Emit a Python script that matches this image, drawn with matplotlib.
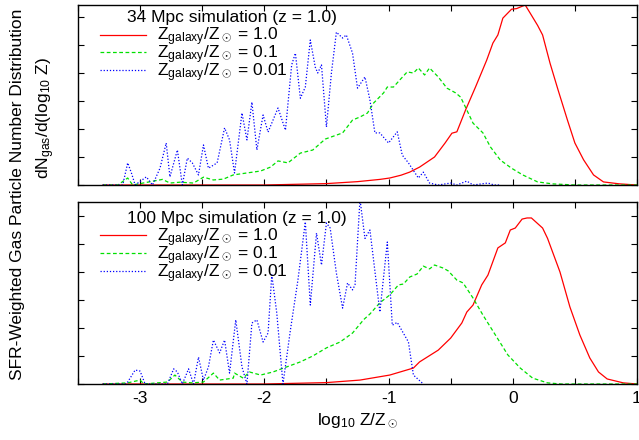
import numpy as np
import matplotlib
matplotlib.use('Agg')
import matplotlib.pyplot as plt
from matplotlib.ticker import MultipleLocator, NullFormatter

plt.rcParams['font.family'] = ['Liberation Sans', 'DejaVu Sans']
plt.rcParams['mathtext.fontset'] = 'custom'
plt.rcParams['mathtext.rm'] = 'Liberation Sans'
plt.rcParams['mathtext.it'] = 'Liberation Sans'
plt.rcParams['font.size'] = 12.5

# Панели и подписи
panel_titles = ['34 Mpc simulation (z = 1.0)', '100 Mpc simulation (z = 1.0)']
series_labels = [r'Z$_{\rm galaxy}$/Z$_\odot$ = 1.0',
                 r'Z$_{\rm galaxy}$/Z$_\odot$ = 0.1',
                 r'Z$_{\rm galaxy}$/Z$_\odot$ = 0.01']
x_ticks = [-3, -2, -1, 0, 1]

# 34 Mpc: Z = 1.0
top_red_x = [-3.3, -2.0, -1.5, -1.25, -1.07, -0.99, -0.9, -0.83, -0.75, -0.69, -0.63, -0.545,
             -0.49, -0.45, -0.38, -0.30, -0.21, -0.16, -0.12, -0.08, -0.01, 0.03, 0.1, 0.14,
             0.2, 0.24, 0.3, 0.365, 0.44, 0.5, 0.57, 0.65, 0.73, 0.86, 1.0]
top_red_y = [0, 0, 0.05, 0.12, 0.2, 0.25, 0.35, 0.46, 0.64, 0.82, 1.0, 1.5,
             1.85, 1.9, 2.68, 3.5, 4.46, 5.07, 5.36, 5.96, 6.28, 6.3, 6.43, 6.14,
             5.7, 5.36, 4.35, 3.39, 2.32, 1.5, 0.9, 0.36, 0.11, 0.04, 0]

# 34 Mpc: Z = 0.1
top_green_x = [-3.3, -3.18, -3.1, -3.06, -2.94, -2.82, -2.76, -2.68, -2.57, -2.49, -2.41, -2.33,
               -2.25, -2.14, -2.03, -1.95, -1.89, -1.81, -1.71, -1.61, -1.51, -1.37, -1.29,
               -1.23, -1.17, -1.12, -1.04, -1.01, -0.96, -0.91, -0.85, -0.80, -0.76, -0.71,
               -0.67, -0.6, -0.53, -0.46, -0.42, -0.37, -0.32, -0.24, -0.18, -0.10, -0.01,
               0.08, 0.2, 0.32, 0.5, 1.0]
top_green_y = [0, 0, 0.25, 0, 0.1, 0.2, 0.07, 0.1, 0.07, 0.28, 0.18, 0.21,
               0.36, 0.43, 0.5, 0.64, 0.86, 0.79, 1.14, 1.25, 1.64, 1.86, 2.32,
               2.43, 2.57, 2.93, 3.29, 3.5, 3.5, 3.75, 4.04, 4.0, 4.18, 3.93,
               4.18, 3.86, 3.46, 3.29, 3.14, 2.68, 2.21, 1.86, 1.36, 0.89, 0.6,
               0.36, 0.11, 0.04, 0, 0]

# 34 Mpc: Z = 0.01
top_blue_x = [-3.3, -3.14, -3.1, -3.07, -3.04, -2.95, -2.9, -2.84, -2.79, -2.76, -2.70, -2.66,
              -2.62, -2.58, -2.53, -2.49, -2.45, -2.38, -2.32, -2.28, -2.24, -2.18, -2.14,
              -2.1, -2.06, -2.01, -1.97, -1.89, -1.83, -1.78, -1.75, -1.71, -1.67, -1.63,
              -1.59, -1.57, -1.54, -1.50, -1.46, -1.42, -1.37, -1.34, -1.29, -1.25, -1.19,
              -1.15, -1.11, -1.07, -1.0, -0.93, -0.89, -0.84, -0.76, -0.72, -0.67, -0.6,
              -0.5, -0.45, -0.37, -0.32, -0.2, -0.15, -0.1]
top_blue_y = [0, 0, 0.79, 0.43, 0, 0.29, 0, 0.6, 1.5, 0.29, 1.25, 0,
              0.96, 0.79, 0.36, 1.43, 0.6, 0.79, 2.04, 1.61, 0.43, 2.57, 1.61,
              2.96, 1.25, 2.5, 1.89, 2.75, 1.96, 4.29, 4.71, 3.1, 3.5, 5.18,
              4.21, 4.0, 4.29, 2.07, 4.0, 5.46, 5.25, 5.36, 4.71, 3.46, 3.86,
              3.04, 1.86, 1.86, 1.5, 1.9, 1.07, 0.79, 0.25, 0.46, 0.07, 0,
              0.07, 0, 0.14, 0, 0.07, 0, 0]

# 100 Mpc: Z = 1.0
bot_red_x = [-3.3, -2.0, -1.5, -1.23, -0.99, -0.80, -0.75, -0.6, -0.5, -0.41, -0.37, -0.32,
             -0.25, -0.2, -0.12, -0.06, -0.02, 0.02, 0.075, 0.115, 0.15, 0.24, 0.28, 0.38,
             0.46, 0.54, 0.62, 0.69, 0.76, 0.89, 1.0]
bot_red_y = [0, 0, 0.05, 0.14, 0.32, 0.57, 0.79, 1.21, 1.64, 2.18, 2.57, 2.82,
             3.54, 3.89, 4.86, 5.04, 5.5, 5.57, 5.89, 5.93, 5.93, 5.57, 5.2, 4.0,
             2.75, 1.75, 0.93, 0.43, 0.18, 0.04, 0]

# 100 Mpc: Z = 0.1
bot_green_x = [-3.3, -3.1, -3.0, -2.97, -2.78, -2.72, -2.66, -2.58, -2.49, -2.41, -2.36, -2.25,
               -2.24, -2.17, -2.12, -2.03, -1.93, -1.82, -1.71, -1.61, -1.5, -1.39, -1.29,
               -1.2, -1.15, -1.07, -0.99, -0.92, -0.88, -0.83, -0.77, -0.72, -0.67, -0.63,
               -0.56, -0.52, -0.45, -0.40, -0.32, -0.24, -0.13, -0.04, 0.06, 0.16, 0.28,
               0.39, 1.0]
bot_green_y = [0, 0.04, 0.14, 0, 0.07, 0.32, 0.07, 0.04, 0.07, 0.39, 0.14, 0.21,
               0.39, 0.21, 0.43, 0.32, 0.43, 0.61, 0.79, 1.0, 1.29, 1.5, 1.82,
               2.3, 2.5, 2.9, 3.18, 3.54, 3.57, 3.82, 3.93, 4.21, 4.11, 4.25,
               4.14, 4.04, 3.71, 3.61, 3.07, 2.46, 1.68, 1.04, 0.57, 0.21, 0.04,
               0, 0]

# 100 Mpc: Z = 0.01
bot_blue_x = [-3.3, -3.12, -3.1, -3.04, -3.0, -2.96, -2.78, -2.73, -2.7, -2.66, -2.61, -2.57,
              -2.53, -2.49, -2.45, -2.41, -2.36, -2.32, -2.28, -2.23, -2.18, -2.14, -2.1,
              -2.06, -2.01, -1.97, -1.94, -1.9, -1.85, -1.79, -1.73, -1.67, -1.63, -1.58,
              -1.54, -1.50, -1.47, -1.42, -1.37, -1.33, -1.29, -1.27, -1.23, -1.19, -1.15,
              -1.07, -1.01, -0.97, -0.93, -0.84, -0.80, -0.72]
bot_blue_y = [0, 0, 0.07, 0.5, 0.46, 0, 0, 0.54, 0.43, 0, 0.54, 0,
              0.96, 0.14, 0.61, 1.57, 1.11, 1.57, 0.39, 2.29, 0.61, 0, 2.18,
              2.29, 1.5, 1.82, 3.9, 2.54, 0, 1.93, 3.7, 5.79, 2.82, 5.39,
              4.25, 5.75, 5.57, 3.96, 2.71, 3.61, 3.36, 3.54, 6.6, 5.2, 5.5,
              2.57, 5.07, 2.1, 2.2, 1.5, 0.32, 0]

panels = [
    (top_red_x, top_red_y, top_green_x, top_green_y, top_blue_x, top_blue_y, 6.43),
    (bot_red_x, bot_red_y, bot_green_x, bot_green_y, bot_blue_x, bot_blue_y, 6.5),
]
# положение заголовка и легенды в долях осей
title_pos = [(0.275, 0.928), (0.284, 0.912)]
legend_top = [0.885, 0.865]

fig = plt.figure(figsize=(6.39, 4.40), dpi=100)
ax_top = fig.add_axes([78 / 639, 1 - 185 / 440, 559 / 639, 180 / 440])
ax_bot = fig.add_axes([78 / 639, 1 - 384 / 440, 559 / 639, 182 / 440])

for i, ax in enumerate([ax_top, ax_bot]):
    rx, ry, gx, gy, bx, by, ytop = panels[i]
    ax.plot(rx, ry, color='#ff0000', lw=0.9, ls='-', label=series_labels[0])
    ax.plot(gx, gy, color='#00e000', lw=0.9, ls=(0, (3, 2)), label=series_labels[1])
    ax.plot(bx, by, color='#0000ff', lw=0.9, ls=(0, (1, 1.5)), label=series_labels[2])
    ax.set_xlim(-3.5, 1.0)
    ax.set_ylim(0, ytop)
    ax.xaxis.set_major_locator(MultipleLocator(1))
    ax.xaxis.set_minor_locator(MultipleLocator(0.5))
    ax.yaxis.set_major_locator(MultipleLocator(1))
    ax.yaxis.set_major_formatter(NullFormatter())
    ax.tick_params(which='both', direction='in', top=True, right=True, length=4, width=0.8)
    for sp in ax.spines.values():
        sp.set_linewidth(1.0)
    ax.text(title_pos[i][0], title_pos[i][1], panel_titles[i], transform=ax.transAxes,
            ha='center', va='center')
    ax.legend(loc='upper left', bbox_to_anchor=(0.039, legend_top[i]), frameon=False,
              handlelength=2.65, handletextpad=0.63, labelspacing=-0.28,
              borderaxespad=0.0, borderpad=0.0)

ax_top.xaxis.set_major_formatter(NullFormatter())
ax_bot.set_xticks(x_ticks)
ax_bot.set_xticklabels([str(t) for t in x_ticks])
ax_bot.tick_params(axis='x', pad=5)
ax_bot.set_xlabel(r'log$_{10}$ Z/Z$_\odot$', labelpad=4)

fig.text(18 / 639, 1 - 194 / 440, 'SFR-Weighted Gas Particle Number Distribution',
         rotation=90, ha='center', va='center')
fig.text(46 / 639, 1 - 118 / 440, r'dN$_{\rm gas}$/d(log$_{10}$ Z)',
         rotation=90, ha='center', va='center')

plt.savefig('out.png', dpi=100)
